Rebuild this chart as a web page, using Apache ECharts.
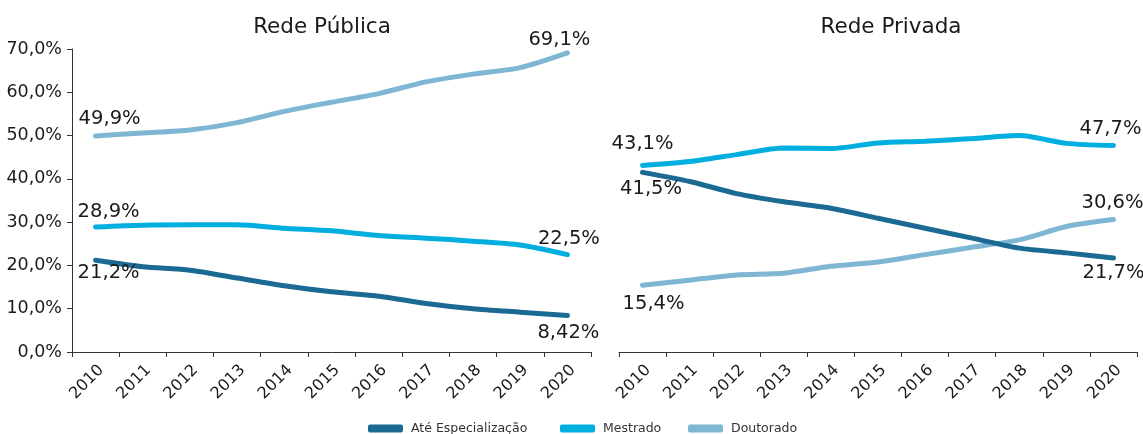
<!DOCTYPE html>
<html>
<head>
<meta charset="utf-8">
<script src="https://cdn.jsdelivr.net/npm/echarts@6/dist/echarts.min.js"></script>
<style>
  html, body { margin: 0; padding: 0; background: #fff; }
  #main { width: 1143px; height: 434px; }
</style>
</head>
<body>
<div id="main"></div>
<script>
const years = ['2010', '2011', '2012', '2013', '2014', '2015', '2016', '2017', '2018', '2019', '2020']
const seriesNames = ['Até Especialização', 'Mestrado', 'Doutorado']

// Rede Pública
const pubAte = [21.2, 19.7, 18.9, 17.1, 15.3, 13.9, 12.9, 11.2, 10.0, 9.2, 8.42]
const pubMestrado = [28.9, 29.3, 29.4, 29.4, 28.6, 28.0, 26.9, 26.3, 25.6, 24.7, 22.5]
const pubDoutorado = [49.9, 50.6, 51.3, 53.0, 55.6, 57.7, 59.7, 62.4, 64.2, 65.7, 69.1]

// Rede Privada
const privAte = [41.5, 39.4, 36.6, 34.7, 33.2, 30.9, 28.6, 26.3, 24.0, 22.9, 21.7]
const privMestrado = [43.1, 44.0, 45.6, 47.1, 47.0, 48.3, 48.7, 49.3, 50.0, 48.2, 47.7]
const privDoutorado = [15.4, 16.6, 17.8, 18.2, 19.8, 20.8, 22.5, 24.2, 25.9, 29.0, 30.6]

const colors = ['#1b6a93', '#00aedf', '#7eb6d4']
const font = '"DejaVu Sans", sans-serif'
const textColor = '#1a1a1a'

const fmt1 = (v) => v.toFixed(1).replace('.', ',') + '%'

// label only the first and last points
function withLabels(values, pos, offFirst, offLast) {
  return values.map((v, i) => {
    if (i !== 0 && i !== values.length - 1) return v
    const first = i === 0
    return {
      value: v,
      label: {
        show: true,
        position: first ? pos[0] : pos[1],
        distance: 7,
        offset: first ? offFirst : offLast,
        formatter: v === 8.42 ? '8,42%' : fmt1(v),
        fontSize: 19.5,
        color: textColor,
        fontFamily: font,
      },
    }
  })
}

function line(name, data, idx, axis) {
  return {
    name: name,
    type: 'line',
    xAxisIndex: axis,
    yAxisIndex: axis,
    smooth: 0.25,
    symbol: 'circle',
    symbolSize: 0,
    showSymbol: true,
    lineStyle: { width: 5, color: colors[idx], cap: 'round' },
    itemStyle: { color: colors[idx] },
    data: data,
    z: idx === 0 ? 3 : 2,
  }
}

const axisLine = { show: true, lineStyle: { color: '#333', width: 1 } }
const xAxisBase = {
  type: 'category',
  data: years,
  boundaryGap: true,
  axisLine: axisLine,
  axisTick: { show: true, length: 5, lineStyle: { color: '#333' } },
  axisLabel: {
    rotate: 45, fontSize: 16, color: textColor, fontFamily: font,
    margin: 10, interval: 0, verticalAlign: 'top',
  },
}

function legendAt(name, left) {
  return {
    data: [name],
    top: 422,
    left: left,
    padding: 0,
    icon: 'roundRect',
    itemWidth: 35,
    itemHeight: 8,
    textStyle: { fontSize: 12.5, color: '#333', fontFamily: font, padding: [0, 0, 0, 3] },
  }
}

const chart = echarts.init(document.getElementById('main'))
chart.setOption({
  animation: false,
  color: colors,
  title: [
    { text: 'Rede Pública', left: 317, top: 11, textAlign: 'center',
      textStyle: { fontSize: 21.5, fontWeight: 'normal', color: textColor, fontFamily: font } },
    { text: 'Rede Privada', left: 886, top: 11, textAlign: 'center',
      textStyle: { fontSize: 21.5, fontWeight: 'normal', color: textColor, fontFamily: font } },
  ],
  legend: [
    legendAt(seriesNames[0], 368),
    legendAt(seriesNames[1], 560),
    legendAt(seriesNames[2], 688),
  ],
  grid: [
    { left: 72, right: 552, top: 49, bottom: 82 },
    { left: 619, right: 6, top: 49, bottom: 82 },
  ],
  xAxis: [
    Object.assign({ gridIndex: 0 }, xAxisBase),
    Object.assign({ gridIndex: 1 }, xAxisBase),
  ],
  yAxis: [
    {
      type: 'value', gridIndex: 0, min: 0, max: 70, interval: 10,
      axisLine: axisLine,
      axisTick: { show: true, length: 5, lineStyle: { color: '#333' } },
      splitLine: { show: false },
      axisLabel: { fontSize: 17.5, color: textColor, fontFamily: font, margin: 10, formatter: fmt1 },
    },
    {
      type: 'value', gridIndex: 1, min: 0, max: 70, interval: 10,
      axisLine: { show: false }, axisTick: { show: false },
      splitLine: { show: false }, axisLabel: { show: false },
    },
  ],
  series: [
    line(seriesNames[0], withLabels(pubAte, ['bottom', 'bottom'], [13, -4], [1, 0]), 0, 0),
    line(seriesNames[1], withLabels(pubMestrado, ['top', 'top'], [13, 2], [1.5, 1]), 1, 0),
    line(seriesNames[2], withLabels(pubDoutorado, ['top', 'top'], [14, 0], [-8, 4]), 2, 0),
    line(seriesNames[0], withLabels(privAte, ['bottom', 'bottom'], [8.5, 0], [0, -2]), 0, 1),
    line(seriesNames[1], withLabels(privMestrado, ['top', 'top'], [0, -5], [-3, 0]), 1, 1),
    line(seriesNames[2], withLabels(privDoutorado, ['bottom', 'top'], [11, 2], [-1, 0]), 2, 1),
  ],
})
</script>
</body>
</html>
